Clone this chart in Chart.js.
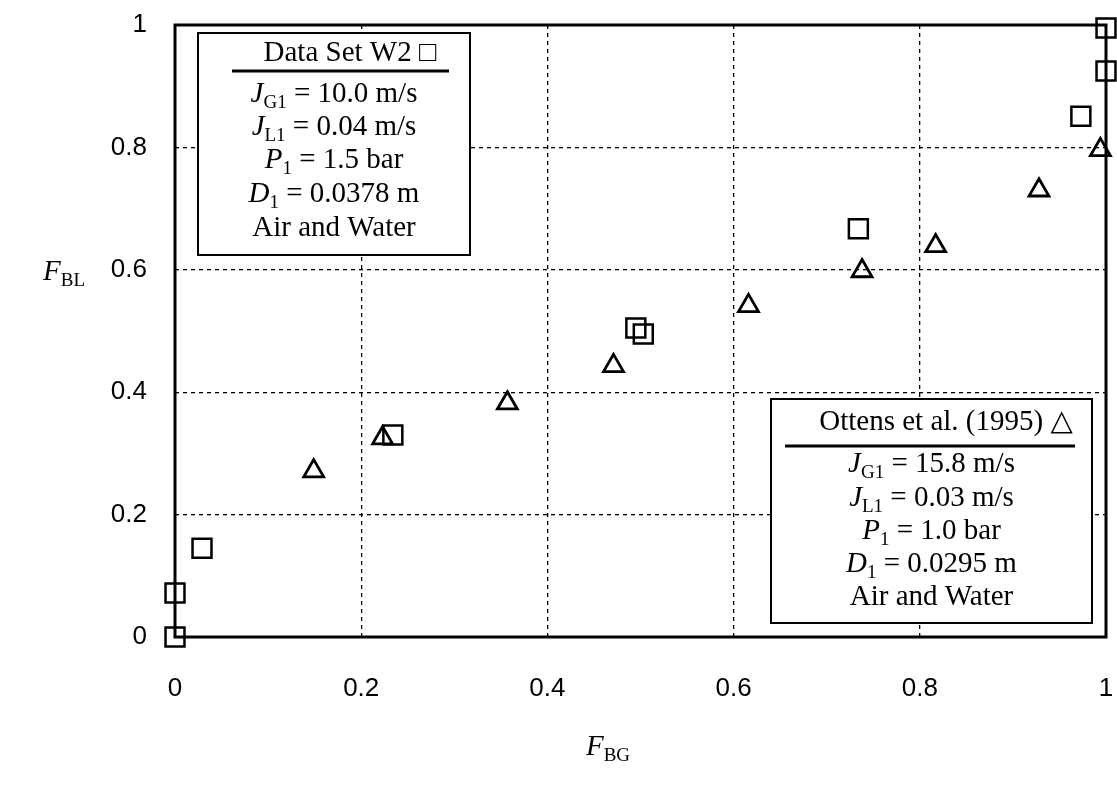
<!DOCTYPE html>
<html>
<head>
<meta charset="utf-8">
<script src="https://cdn.jsdelivr.net/npm/chart.js@4"></script>
<style>
  body { margin: 0; background: #fff; }
  canvas { display: block; }
</style>
</head>
<body>
<canvas id="fbChart" width="1117" height="786"></canvas>
<script>
// Data Set W2 (squares)
const w2X = [0, 0, 0.029, 0.234, 0.495, 0.503, 0.734, 0.973, 1.0, 1.0];
const w2Y = [0, 0.072, 0.145, 0.330, 0.505, 0.495, 0.667, 0.851, 0.925, 0.995];

// Ottens et al. (1995) (triangles)
const ottensX = [0.149, 0.223, 0.357, 0.471, 0.616, 0.738, 0.817, 0.928, 0.994];
const ottensY = [0.271, 0.325, 0.382, 0.443, 0.541, 0.598, 0.639, 0.730, 0.796];

const xTicks = [0, 0.2, 0.4, 0.6, 0.8, 1];
const yTicks = [0, 0.2, 0.4, 0.6, 0.8, 1];

const SERIF = "'Liberation Serif', 'DejaVu Serif', serif";

function toPoints(xs, ys) {
    return xs.map((x, i) => ({ x: x, y: ys[i] }));
}

// draw a line of mixed text (italic letters, subscripts) centred on cx
function richLine(ctx, parts, cx, cy) {
    const base = 29, sub = 19;
    const fontOf = p => (p.italic ? 'italic ' : '') + (p.sub ? sub : base) + 'px ' + SERIF;
    let total = 0;
    parts.forEach(p => { ctx.font = fontOf(p); p.w = ctx.measureText(p.t).width; total += p.w; });
    let x = cx - total / 2;
    const baseline = cy + 10;
    ctx.textAlign = 'left';
    ctx.textBaseline = 'alphabetic';
    parts.forEach(p => {
        ctx.font = fontOf(p);
        ctx.fillText(p.t, x, p.sub ? baseline + 6 : baseline);
        x += p.w;
    });
}

function drawInfoBox(ctx, box) {
    ctx.save();
    ctx.fillStyle = '#fff';
    ctx.fillRect(box.l, box.t, box.r - box.l, box.b - box.t);
    ctx.strokeStyle = '#000';
    ctx.lineWidth = 2;
    ctx.strokeRect(box.l, box.t, box.r - box.l, box.b - box.t);
    ctx.fillStyle = '#000';
    richLine(ctx, [{ t: box.title }], box.titleX, box.lines[0]);
    ctx.lineWidth = 3;
    ctx.beginPath();
    ctx.moveTo(box.ul[0], box.ul[2]);
    ctx.lineTo(box.ul[1], box.ul[2]);
    ctx.stroke();
    const cx = (box.l + box.r) / 2;
    const v = box.values;
    richLine(ctx, [{ t: 'J', italic: true }, { t: 'G1', sub: true }, { t: ' = ' + v[0] + ' m/s' }], cx, box.lines[1]);
    richLine(ctx, [{ t: 'J', italic: true }, { t: 'L1', sub: true }, { t: ' = ' + v[1] + ' m/s' }], cx, box.lines[2]);
    richLine(ctx, [{ t: 'P', italic: true }, { t: '1', sub: true }, { t: ' = ' + v[2] + ' bar' }], cx, box.lines[3]);
    richLine(ctx, [{ t: 'D', italic: true }, { t: '1', sub: true }, { t: ' = ' + v[3] + ' m' }], cx, box.lines[4]);
    richLine(ctx, [{ t: 'Air and Water' }], cx, box.lines[5]);
    ctx.restore();
}

const framePlugin = {
    id: 'frame',
    afterDraw(chart) {
        const ctx = chart.ctx;
        const a = chart.chartArea;
        ctx.save();
        ctx.strokeStyle = '#000';
        ctx.lineWidth = 3;
        ctx.strokeRect(a.left, a.top, a.right - a.left, a.bottom - a.top);

        drawInfoBox(ctx, {
            l: 198, t: 33, r: 470, b: 255,
            title: 'Data Set W2 \u25A1', titleX: 350,
            ul: [232, 449, 71],
            lines: [51, 92, 125, 158, 192, 226],
            values: ['10.0', '0.04', '1.5', '0.0378']
        });
        drawInfoBox(ctx, {
            l: 771, t: 399, r: 1092, b: 623,
            title: 'Ottens et al. (1995) \u25B3', titleX: 946,
            ul: [785, 1075, 446],
            lines: [420, 462, 496, 529, 562, 595],
            values: ['15.8', '0.03', '1.0', '0.0295']
        });

        // axis titles
        ctx.fillStyle = '#000';
        richLine(ctx, [{ t: 'F', italic: true }, { t: 'BL', sub: true }], 64, 270);
        richLine(ctx, [{ t: 'F', italic: true }, { t: 'BG', sub: true }], 608, 745);
        ctx.restore();
    }
};

const tickFont = { family: "'Liberation Sans', Arial, sans-serif", size: 26 };

new Chart(document.getElementById('fbChart'), {
    type: 'scatter',
    data: {
        datasets: [{
            label: 'Data Set W2',
            data: toPoints(w2X, w2Y),
            pointStyle: 'rect',
            pointRadius: 13.4,
            pointBorderWidth: 2.5,
            borderColor: '#000',
            backgroundColor: 'rgba(0,0,0,0)',
            clip: false
        }, {
            label: 'Ottens et al. (1995)',
            data: toPoints(ottensX, ottensY),
            pointStyle: 'triangle',
            pointRadius: 11.5,
            pointBorderWidth: 2.8,
            borderColor: '#000',
            backgroundColor: 'rgba(0,0,0,0)',
            clip: false
        }]
    },
    options: {
        responsive: false,
        animation: false,
        layout: { autoPadding: false, padding: { left: 0, top: 25, right: 11, bottom: 0 } },
        plugins: {
            legend: { display: false },
            tooltip: { enabled: false }
        },
        scales: {
            x: {
                type: 'linear',
                min: 0,
                max: 1,
                afterBuildTicks: scale => { scale.ticks = xTicks.map(v => ({ value: v })); },
                afterFit: scale => {
                    scale.height = 149;
                    scale.paddingLeft = 0;
                    scale.paddingRight = 0;
                },
                grid: { color: '#000', lineWidth: 1.3, drawTicks: false },
                border: { display: false, dash: [4, 4] },
                ticks: { color: '#000', font: tickFont, padding: 36, maxRotation: 0, callback: v => String(v) }
            },
            y: {
                type: 'linear',
                min: 0,
                max: 1,
                afterBuildTicks: scale => { scale.ticks = yTicks.map(v => ({ value: v })); },
                afterFit: scale => {
                    scale.width = 175;
                    scale.paddingTop = 0;
                    scale.paddingBottom = 0;
                },
                grid: { color: '#000', lineWidth: 1.3, drawTicks: false },
                border: { display: false, dash: [4, 4] },
                ticks: { color: '#000', font: tickFont, padding: 28, callback: v => String(v) }
            }
        }
    },
    plugins: [framePlugin]
});
</script>
</body>
</html>
